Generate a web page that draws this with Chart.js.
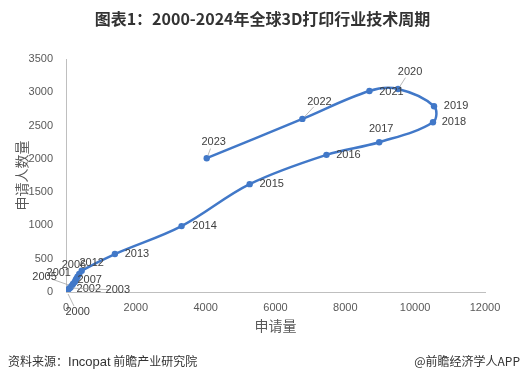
<!DOCTYPE html>
<html>
<head>
<meta charset="utf-8">
<script src="https://cdn.jsdelivr.net/npm/chart.js@4"></script>
<style>
    html, body { margin: 0; padding: 0; background: #fff; }
    #wrap { position: relative; width: 525px; height: 384px; overflow: hidden; }
    #chart { position: absolute; left: 0; top: 0; }
    .title { position: absolute; left: 0; width: 525px; top: 6px; text-align: center;
        font: bold 16px "Noto Sans CJK SC", sans-serif; color: #333; }
    .src { position: absolute; left: 8px; top: 352px; font: 12px "Noto Sans CJK SC", sans-serif; color: #333; }
    .src span { font-family: "Liberation Sans", sans-serif; font-size: 13px; }
    .app { position: absolute; right: 5px; top: 352px; font: 12px "Noto Sans CJK SC", sans-serif; color: #333; }
</style>
</head>
<body>
<div id="wrap">
    <canvas id="chart" width="525" height="384"></canvas>
    <div class="title">图表1：2000-2024年全球3D打印行业技术周期</div>
    <div class="src">资料来源：<span>Incopat</span> 前瞻产业研究院</div>
    <div class="app">@前瞻经济学人APP</div>
</div>
<script>
// data
const years = [2000, 2001, 2002, 2003, 2004, 2005, 2006, 2007, 2008, 2009, 2010, 2011,
               2012, 2013, 2014, 2015, 2016, 2017, 2018, 2019, 2020, 2021, 2022, 2023];
const applications = [20, 50, 80, 110, 140, 160, 200, 250, 280, 300, 330, 380,
                      450, 1400, 3310, 5260, 7460, 8970, 10510, 10540, 9510, 8690, 6770, 4030];
const applicants = [10, 30, 45, 60, 75, 90, 120, 150, 180, 200, 230, 270,
                    320, 570, 990, 1620, 2060, 2250, 2550, 2790, 3050, 3020, 2600, 2010];
const xTicks = [0, 2000, 4000, 6000, 8000, 10000, 12000];
const yTicks = [0, 500, 1000, 1500, 2000, 2500, 3000, 3500];

// label placement (dx, dy from point, leader line or not)
const labelPos = {
    2000: [11, 21, true], 2001: [-9, -17, false], 2002: [20, 0, false], 2003: [48, 2, true],
    2005: [-27, -9, true], 2006: [1, -19, false], 2007: [15, -2, false], 2012: [10, -8, false],
    2013: [22, 0], 2014: [23, 0], 2015: [22, 0], 2016: [22, 0], 2017: [2, -13],
    2018: [21, 0], 2019: [22, 0], 2020: [12, -17, true], 2021: [22, 1],
    2022: [17, -17, true], 2023: [7, -16, true]
};

const points = years.map((y, i) => ({ x: applications[i], y: applicants[i] }));

const yearLabels = {
    id: 'yearLabels',
    afterDatasetsDraw(chart) {
        const ctx = chart.ctx;
        const meta = chart.getDatasetMeta(0);
        ctx.save();
        ctx.font = '11px "Liberation Sans", sans-serif';
        ctx.fillStyle = '#404040';
        ctx.textAlign = 'center';
        ctx.textBaseline = 'middle';
        years.forEach((yr, i) => {
            const p = labelPos[yr];
            if (!p) return;
            const pt = meta.data[i];
            const lx = pt.x + p[0], ly = pt.y + p[1];
            if (p[2]) {
                ctx.strokeStyle = '#a6a6a6';
                ctx.lineWidth = 0.8;
                ctx.beginPath();
                const dx = p[0], dy = p[1];
                const len = Math.sqrt(dx * dx + dy * dy);
                ctx.moveTo(pt.x + dx / len * 3, pt.y + dy / len * 3);
                ctx.lineTo(lx - dx / len * 8, ly - dy / len * 7);
                ctx.stroke();
            }
            ctx.fillText(String(yr), lx, ly);
        });
        ctx.restore();
    }
};

const tickFont = { family: '"Liberation Sans", sans-serif', size: 11 };

new Chart(document.getElementById('chart'), {
    type: 'scatter',
    data: {
        datasets: [{
            data: points,
            showLine: true,
            tension: 0.35,
            borderColor: '#4178c8',
            backgroundColor: '#4178c8',
            borderWidth: 2.5,
            pointRadius: 3.2,
            pointBorderWidth: 0,
        }]
    },
    options: {
        responsive: false,
        animation: false,
        layout: { padding: { left: 9, top: 59, right: 40, bottom: 46 } },
        plugins: { legend: { display: false }, tooltip: { enabled: false } },
        scales: {
            x: {
                min: 0, max: 12000,
                afterBuildTicks: s => { s.ticks = xTicks.map(v => ({ value: v })); },
                afterFit: s => { s.height = 46; },
                grid: { display: false, drawTicks: false },
                border: { display: true, color: '#bfbfbf', width: 1 },
                ticks: { padding: 9, color: '#595959', font: tickFont, callback: v => String(v) },
                title: { display: true, text: '申请量', color: '#595959', padding: 4,
                    font: { family: '"Noto Sans CJK SC", sans-serif', size: 14 } }
            },
            y: {
                min: 0, max: 3500,
                afterBuildTicks: s => { s.ticks = yTicks.map(v => ({ value: v })); },
                afterFit: s => { s.width = 57; },
                grid: { display: false, drawTicks: false },
                border: { display: true, color: '#bfbfbf', width: 1 },
                ticks: { padding: 13, color: '#595959', font: tickFont, callback: v => String(v) },
                title: { display: true, text: '申请人数量', color: '#595959', padding: 4,
                    font: { family: '"Noto Sans CJK SC", sans-serif', size: 14 } }
            }
        }
    },
    plugins: [yearLabels]
});
</script>
</body>
</html>
